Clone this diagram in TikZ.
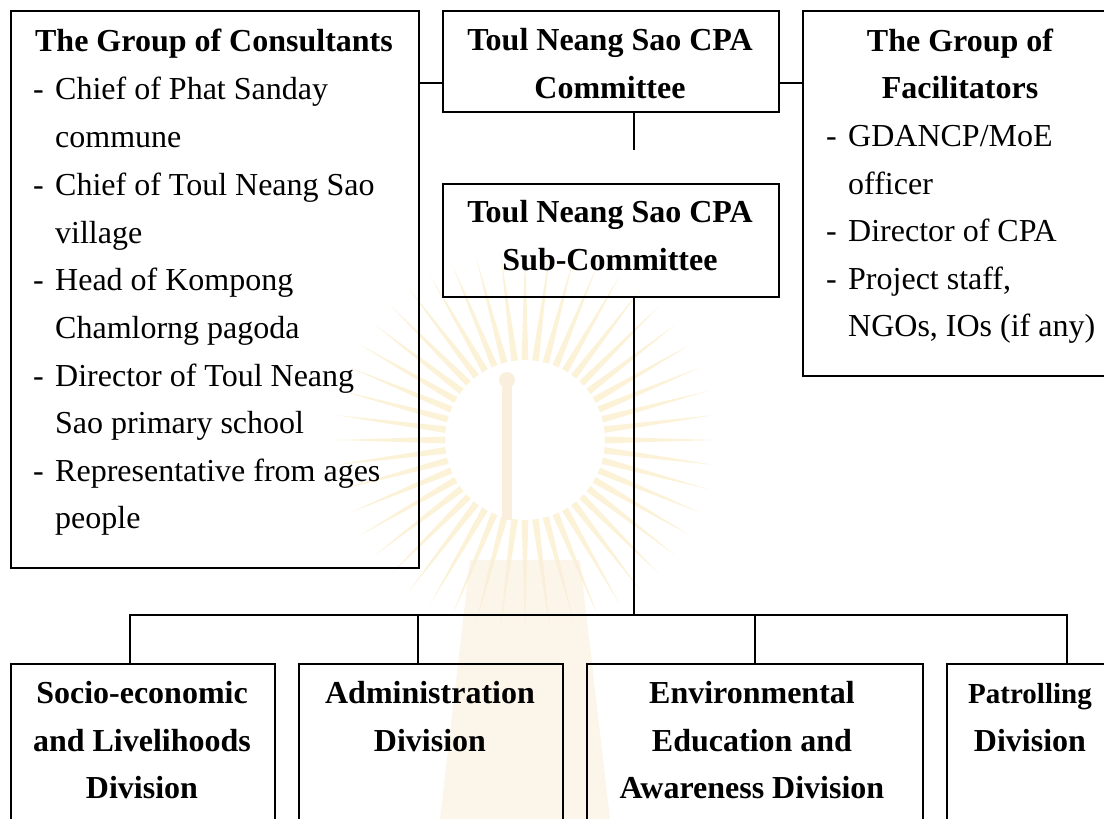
\documentclass[tikz,border=0pt]{standalone}
\usepackage{fontspec}
\setmainfont{Liberation Serif}
\usetikzlibrary{calc}
\definecolor{raycol}{RGB}{252,242,216}
\definecolor{crowncol}{RGB}{250,238,220}
\begin{document}
\begin{tikzpicture}[x=1pt,y=-1pt,
  frame/.style={draw, line width=1.6pt, anchor=north west, inner sep=0pt},
  link/.style={line width=1.6pt},
  ttl/.style={anchor=base, inner sep=0pt, font=\fontsize{32}{38}\selectfont\bfseries},
  item/.style={anchor=base west, inner sep=0pt, font=\fontsize{32}{38}\selectfont},
  ray/.style={fill=raycol, draw=none}]
\useasboundingbox (0,0) rectangle (1104,819);
\clip (0,0) rectangle (1104,819);

% faint emblem behind the chart
\coordinate (sun) at (525,440);
\foreach \a in {0,7.5,...,352.5}
  \fill[ray] ($(sun)+(\a-2.4:80)$) -- ($(sun)+(\a:190)$) -- ($(sun)+(\a+2.4:80)$) -- cycle;
\fill[white] (sun) ellipse (62 and 80);
\fill[crowncol] (502,380) rectangle (512,520);
\fill[crowncol] (507,380) circle (8);
\fill[crowncol, opacity=0.6] (470,560) -- (580,560) -- (610,819) -- (440,819) -- cycle;

% boxes
\node[frame, minimum width=408pt, minimum height=557pt] (cons) at (10,10) {};
\node[frame, minimum width=336pt, minimum height=101pt] (cm) at (442,10) {};
\node[frame, minimum width=316pt, minimum height=365pt] (fac) at (802,10) {};
\node[frame, minimum width=336pt, minimum height=113pt] (sub) at (442,183) {};
\node[frame, minimum width=264pt, minimum height=220pt] (socio) at (10,663) {};
\node[frame, minimum width=264pt, minimum height=220pt] (admin) at (298,663) {};
\node[frame, minimum width=336pt, minimum height=220pt] (env) at (586,663) {};
\node[frame, minimum width=168pt, minimum height=220pt] (patrol) at (946,663) {};

% consultants
\node[ttl] (consT) at (214,51) {The Group of Consultants};
\foreach \n/\y/\d/\t in {
  1/99/-/{Chief of Phat Sanday},
  2/147//{commune},
  3/195/-/{Chief of Toul Neang Sao},
  4/243//{village},
  5/290/-/{Head of Kompong},
  6/338//{Chamlorng pagoda},
  7/386/-/{Director of Toul Neang},
  8/433//{Sao primary school},
  9/481/-/{Representative from ages},
  10/528//{people}}{
  \node[item] (consD\n) at (33,\y) {\d};
  \node[item] (consL\n) at (55,\y) {\t};
}

% committee and sub-committee
\node[ttl] (cmA) at (610,50) {Toul Neang Sao CPA};
\node[ttl] (cmB) at (610,98) {Committee};
\node[ttl] (subA) at (610,222) {Toul Neang Sao CPA};
\node[ttl] (subB) at (610,270) {Sub-Committee};

% facilitators
\node[ttl] (facA) at (960,51) {The Group of};
\node[ttl] (facB) at (960,98) {Facilitators};
\node[item] (facD1) at (826,146) {-};
\node[item] (facL1) at (848,146) {GDANCP/MoE};
\node[item] (facL2) at (848,194) {officer};
\node[item] (facD3) at (826,241) {-};
\node[item] (facL3) at (848,241) {Director of CPA};
\node[item] (facD4) at (826,289) {-};
\node[item] (facL4) at (848,289) {Project staff,};
\node[item] (facL5) at (848,336) {NGOs, IOs (if any)};

% divisions
\node[ttl] (soA) at (142,703) {Socio-economic};
\node[ttl] (soB) at (142,751) {and Livelihoods};
\node[ttl] (soC) at (142,798) {Division};
\node[ttl] (adA) at (430,703) {Administration};
\node[ttl] (adB) at (430,751) {Division};
\node[ttl] (enA) at (752,703) {Environmental};
\node[ttl] (enB) at (752,751) {Education and};
\node[ttl] (enC) at (752,798) {Awareness Division};
\node[ttl, font=\fontsize{29}{34}\selectfont\bfseries] (paA) at (1030,703) {Patrolling};
\node[ttl] (paB) at (1030,751) {Division};

% connectors
\coordinate (cmEnd) at (634,150);
\coordinate (busL) at (130,615);
\coordinate (busR) at (1067,615);
\coordinate (busM) at (634,615);
\draw[link] (cons.east |- 0,83) -- (cm.west |- 0,83);
\draw[link] (cm.east |- 0,83) -- (fac.west |- 0,83);
\draw[link] (cm.south -| cmEnd) -- (cmEnd);
\draw[link] (sub.south -| busM) -- (busM);
\draw[link] (socio.north -| busL) -- (busL) -- (busR) -- (patrol.north -| busR);
\draw[link] (admin.north -| 418,0) -- (418,615);
\draw[link] (env.north) -- (env.north |- busL);
\end{tikzpicture}
\end{document}
